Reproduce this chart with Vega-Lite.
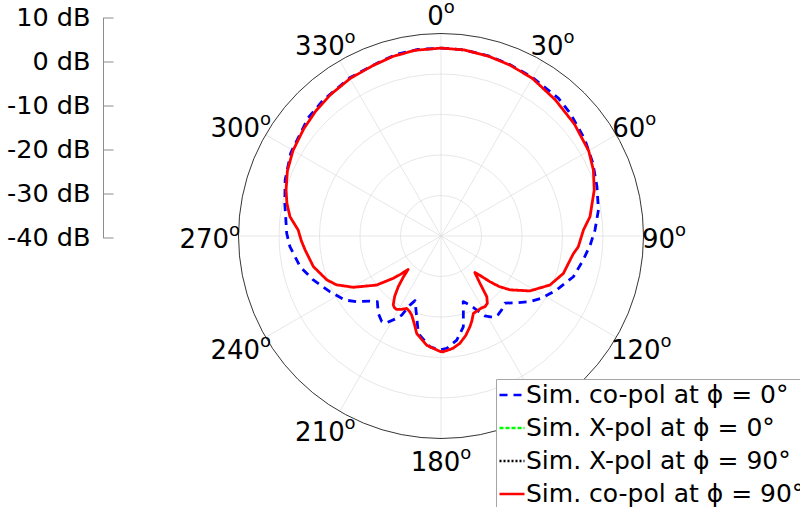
{
  "$schema": "https://vega.github.io/schema/vega-lite/v6.json",
  "width": 405,
  "height": 405,
  "autosize": {"type": "none"},
  "padding": {"left": 238.5, "top": 33.5, "right": 156.5, "bottom": 68.5},
  "background": "white",
  "config": {
    "view": {"stroke": null},
    "font": "DejaVu Sans",
    "legend": {
      "orient": "none",
      "legendX": 257.5,
      "legendY": 345.5,
      "title": null,
      "labelFont": "DejaVu Sans",
      "labelFontSize": 25,
      "labelColor": "#000000",
      "labelLimit": 600,
      "labelOffset": 0,
      "symbolType": "stroke",
      "symbolSize": 625,
      "symbolStrokeWidth": 2.4,
      "rowPadding": 6,
      "padding": 2,
      "strokeColor": "#a6a6a6",
      "fillColor": "#ffffff"
    }
  },
  "datasets": {
    "pattern": [
      {"series": "Sim. co-pol at ϕ = 0°", "angle": 0, "db": 6.4},
      {"series": "Sim. co-pol at ϕ = 0°", "angle": 7, "db": 6.3},
      {"series": "Sim. co-pol at ϕ = 0°", "angle": 15, "db": 6.0},
      {"series": "Sim. co-pol at ϕ = 0°", "angle": 22, "db": 5.6},
      {"series": "Sim. co-pol at ϕ = 0°", "angle": 30, "db": 5.2},
      {"series": "Sim. co-pol at ϕ = 0°", "angle": 40.4, "db": 4.7},
      {"series": "Sim. co-pol at ϕ = 0°", "angle": 46.4, "db": 4.0},
      {"series": "Sim. co-pol at ϕ = 0°", "angle": 56, "db": 2.8},
      {"series": "Sim. co-pol at ϕ = 0°", "angle": 64.3, "db": 1.6},
      {"series": "Sim. co-pol at ϕ = 0°", "angle": 72.4, "db": 0.4},
      {"series": "Sim. co-pol at ϕ = 0°", "angle": 80.6, "db": -0.6},
      {"series": "Sim. co-pol at ϕ = 0°", "angle": 87.8, "db": -1.95},
      {"series": "Sim. co-pol at ϕ = 0°", "angle": 93.5, "db": -3.1},
      {"series": "Sim. co-pol at ϕ = 0°", "angle": 99.6, "db": -4.4},
      {"series": "Sim. co-pol at ϕ = 0°", "angle": 107.1, "db": -5.8},
      {"series": "Sim. co-pol at ϕ = 0°", "angle": 115, "db": -8.5},
      {"series": "Sim. co-pol at ϕ = 0°", "angle": 121.7, "db": -10.8},
      {"series": "Sim. co-pol at ϕ = 0°", "angle": 126.4, "db": -12.7},
      {"series": "Sim. co-pol at ϕ = 0°", "angle": 131.4, "db": -15.1},
      {"series": "Sim. co-pol at ϕ = 0°", "angle": 136.4, "db": -17.1},
      {"series": "Sim. co-pol at ϕ = 0°", "angle": 140.6, "db": -16.4},
      {"series": "Sim. co-pol at ϕ = 0°", "angle": 144, "db": -16.0},
      {"series": "Sim. co-pol at ϕ = 0°", "angle": 147.3, "db": -16.1},
      {"series": "Sim. co-pol at ϕ = 0°", "angle": 151.2, "db": -17.5},
      {"series": "Sim. co-pol at ϕ = 0°", "angle": 154.2, "db": -19.7},
      {"series": "Sim. co-pol at ϕ = 0°", "angle": 157.5, "db": -21.6},
      {"series": "Sim. co-pol at ϕ = 0°", "angle": 161.3, "db": -22.9},
      {"series": "Sim. co-pol at ϕ = 0°", "angle": 163.2, "db": -20.9},
      {"series": "Sim. co-pol at ϕ = 0°", "angle": 166.2, "db": -16.9},
      {"series": "Sim. co-pol at ϕ = 0°", "angle": 171.4, "db": -14.0},
      {"series": "Sim. co-pol at ϕ = 0°", "angle": 177.1, "db": -12.2},
      {"series": "Sim. co-pol at ϕ = 0°", "angle": 180.5, "db": -11.85},
      {"series": "Sim. co-pol at ϕ = 0°", "angle": 185.7, "db": -12.5},
      {"series": "Sim. co-pol at ϕ = 0°", "angle": 193.1, "db": -15.3},
      {"series": "Sim. co-pol at ϕ = 0°", "angle": 196.8, "db": -19.2},
      {"series": "Sim. co-pol at ϕ = 0°", "angle": 201.9, "db": -22.8},
      {"series": "Sim. co-pol at ϕ = 0°", "angle": 204.2, "db": -21.3},
      {"series": "Sim. co-pol at ϕ = 0°", "angle": 206.4, "db": -18.2},
      {"series": "Sim. co-pol at ϕ = 0°", "angle": 208.3, "db": -16.9},
      {"series": "Sim. co-pol at ϕ = 0°", "angle": 212.1, "db": -14.7},
      {"series": "Sim. co-pol at ϕ = 0°", "angle": 214.7, "db": -14.3},
      {"series": "Sim. co-pol at ϕ = 0°", "angle": 219, "db": -15.4},
      {"series": "Sim. co-pol at ϕ = 0°", "angle": 224.1, "db": -17.4},
      {"series": "Sim. co-pol at ϕ = 0°", "angle": 227.5, "db": -16.2},
      {"series": "Sim. co-pol at ϕ = 0°", "angle": 232.1, "db": -13.6},
      {"series": "Sim. co-pol at ϕ = 0°", "angle": 236.3, "db": -11.5},
      {"series": "Sim. co-pol at ϕ = 0°", "angle": 243.4, "db": -9.3},
      {"series": "Sim. co-pol at ϕ = 0°", "angle": 251, "db": -6.65},
      {"series": "Sim. co-pol at ϕ = 0°", "angle": 257.7, "db": -4.4},
      {"series": "Sim. co-pol at ϕ = 0°", "angle": 266, "db": -2.6},
      {"series": "Sim. co-pol at ϕ = 0°", "angle": 271, "db": -1.9},
      {"series": "Sim. co-pol at ϕ = 0°", "angle": 281.8, "db": -0.6},
      {"series": "Sim. co-pol at ϕ = 0°", "angle": 289.8, "db": 0.9},
      {"series": "Sim. co-pol at ϕ = 0°", "angle": 299, "db": 2.4},
      {"series": "Sim. co-pol at ϕ = 0°", "angle": 311.6, "db": 3.9},
      {"series": "Sim. co-pol at ϕ = 0°", "angle": 319.1, "db": 4.4},
      {"series": "Sim. co-pol at ϕ = 0°", "angle": 330, "db": 5.1},
      {"series": "Sim. co-pol at ϕ = 0°", "angle": 340.7, "db": 5.6},
      {"series": "Sim. co-pol at ϕ = 0°", "angle": 346.4, "db": 6.2},
      {"series": "Sim. co-pol at ϕ = 0°", "angle": 353, "db": 6.4},
      {"series": "Sim. co-pol at ϕ = 0°", "angle": 360, "db": 6.4},
      {"series": "Sim. co-pol at ϕ = 90°", "angle": 0, "db": 6.4},
      {"series": "Sim. co-pol at ϕ = 90°", "angle": 7, "db": 6.3},
      {"series": "Sim. co-pol at ϕ = 90°", "angle": 15, "db": 5.9},
      {"series": "Sim. co-pol at ϕ = 90°", "angle": 22, "db": 5.5},
      {"series": "Sim. co-pol at ϕ = 90°", "angle": 30, "db": 5.0},
      {"series": "Sim. co-pol at ϕ = 90°", "angle": 40, "db": 3.9},
      {"series": "Sim. co-pol at ϕ = 90°", "angle": 50, "db": 3.0},
      {"series": "Sim. co-pol at ϕ = 90°", "angle": 60, "db": 2.1},
      {"series": "Sim. co-pol at ϕ = 90°", "angle": 66.6, "db": 1.0},
      {"series": "Sim. co-pol at ϕ = 90°", "angle": 73.3, "db": -0.5},
      {"series": "Sim. co-pol at ϕ = 90°", "angle": 82.6, "db": -2.9},
      {"series": "Sim. co-pol at ϕ = 90°", "angle": 87.6, "db": -4.8},
      {"series": "Sim. co-pol at ϕ = 90°", "angle": 94.5, "db": -6.0},
      {"series": "Sim. co-pol at ϕ = 90°", "angle": 97.5, "db": -7.0},
      {"series": "Sim. co-pol at ϕ = 90°", "angle": 102, "db": -7.8},
      {"series": "Sim. co-pol at ϕ = 90°", "angle": 107, "db": -8.4},
      {"series": "Sim. co-pol at ϕ = 90°", "angle": 114.2, "db": -10.5},
      {"series": "Sim. co-pol at ϕ = 90°", "angle": 121.7, "db": -14.2},
      {"series": "Sim. co-pol at ϕ = 90°", "angle": 128, "db": -18.4},
      {"series": "Sim. co-pol at ϕ = 90°", "angle": 131, "db": -21.0},
      {"series": "Sim. co-pol at ϕ = 90°", "angle": 133, "db": -23.4},
      {"series": "Sim. co-pol at ϕ = 90°", "angle": 135.5, "db": -26.5},
      {"series": "Sim. co-pol at ϕ = 90°", "angle": 137.2, "db": -27.7},
      {"series": "Sim. co-pol at ϕ = 90°", "angle": 138.8, "db": -26.5},
      {"series": "Sim. co-pol at ϕ = 90°", "angle": 140.5, "db": -24.9},
      {"series": "Sim. co-pol at ϕ = 90°", "angle": 143, "db": -21.2},
      {"series": "Sim. co-pol at ϕ = 90°", "angle": 145.5, "db": -19.8},
      {"series": "Sim. co-pol at ϕ = 90°", "angle": 148.1, "db": -19.45},
      {"series": "Sim. co-pol at ϕ = 90°", "angle": 151, "db": -19.6},
      {"series": "Sim. co-pol at ϕ = 90°", "angle": 153.3, "db": -19.5},
      {"series": "Sim. co-pol at ϕ = 90°", "angle": 155.5, "db": -19.4},
      {"series": "Sim. co-pol at ϕ = 90°", "angle": 157.3, "db": -19.3},
      {"series": "Sim. co-pol at ϕ = 90°", "angle": 160, "db": -17.7},
      {"series": "Sim. co-pol at ϕ = 90°", "angle": 162.3, "db": -16.5},
      {"series": "Sim. co-pol at ϕ = 90°", "angle": 166, "db": -14.7},
      {"series": "Sim. co-pol at ϕ = 90°", "angle": 170, "db": -13.1},
      {"series": "Sim. co-pol at ϕ = 90°", "angle": 174, "db": -12.1},
      {"series": "Sim. co-pol at ϕ = 90°", "angle": 179, "db": -11.4},
      {"series": "Sim. co-pol at ϕ = 90°", "angle": 180.5, "db": -11.5},
      {"series": "Sim. co-pol at ϕ = 90°", "angle": 187.5, "db": -12.8},
      {"series": "Sim. co-pol at ϕ = 90°", "angle": 194, "db": -15.2},
      {"series": "Sim. co-pol at ϕ = 90°", "angle": 197, "db": -17.4},
      {"series": "Sim. co-pol at ϕ = 90°", "angle": 200.4, "db": -19.2},
      {"series": "Sim. co-pol at ϕ = 90°", "angle": 203, "db": -19.9},
      {"series": "Sim. co-pol at ϕ = 90°", "angle": 205.4, "db": -20.2},
      {"series": "Sim. co-pol at ϕ = 90°", "angle": 208, "db": -19.5},
      {"series": "Sim. co-pol at ϕ = 90°", "angle": 211.2, "db": -18.8},
      {"series": "Sim. co-pol at ϕ = 90°", "angle": 213, "db": -18.9},
      {"series": "Sim. co-pol at ϕ = 90°", "angle": 214.7, "db": -19.3},
      {"series": "Sim. co-pol at ϕ = 90°", "angle": 217.5, "db": -21.2},
      {"series": "Sim. co-pol at ϕ = 90°", "angle": 220.1, "db": -23.6},
      {"series": "Sim. co-pol at ϕ = 90°", "angle": 222.5, "db": -26.2},
      {"series": "Sim. co-pol at ϕ = 90°", "angle": 224.5, "db": -28.4},
      {"series": "Sim. co-pol at ϕ = 90°", "angle": 226.5, "db": -26.3},
      {"series": "Sim. co-pol at ϕ = 90°", "angle": 228.4, "db": -24.3},
      {"series": "Sim. co-pol at ϕ = 90°", "angle": 232.7, "db": -20.0},
      {"series": "Sim. co-pol at ϕ = 90°", "angle": 239.7, "db": -14.9},
      {"series": "Sim. co-pol at ϕ = 90°", "angle": 245, "db": -11.5},
      {"series": "Sim. co-pol at ϕ = 90°", "angle": 249, "db": -9.8},
      {"series": "Sim. co-pol at ϕ = 90°", "angle": 256.5, "db": -7.6},
      {"series": "Sim. co-pol at ϕ = 90°", "angle": 264, "db": -6.3},
      {"series": "Sim. co-pol at ϕ = 90°", "angle": 268, "db": -5.5},
      {"series": "Sim. co-pol at ϕ = 90°", "angle": 272.4, "db": -4.7},
      {"series": "Sim. co-pol at ϕ = 90°", "angle": 277.3, "db": -2.4},
      {"series": "Sim. co-pol at ϕ = 90°", "angle": 282, "db": -1.1},
      {"series": "Sim. co-pol at ϕ = 90°", "angle": 286.5, "db": -0.1},
      {"series": "Sim. co-pol at ϕ = 90°", "angle": 293, "db": 1.2},
      {"series": "Sim. co-pol at ϕ = 90°", "angle": 300, "db": 2.2},
      {"series": "Sim. co-pol at ϕ = 90°", "angle": 308, "db": 3.0},
      {"series": "Sim. co-pol at ϕ = 90°", "angle": 315, "db": 3.7},
      {"series": "Sim. co-pol at ϕ = 90°", "angle": 322, "db": 4.3},
      {"series": "Sim. co-pol at ϕ = 90°", "angle": 330, "db": 4.9},
      {"series": "Sim. co-pol at ϕ = 90°", "angle": 338, "db": 5.3},
      {"series": "Sim. co-pol at ϕ = 90°", "angle": 345, "db": 5.9},
      {"series": "Sim. co-pol at ϕ = 90°", "angle": 352, "db": 6.3},
      {"series": "Sim. co-pol at ϕ = 90°", "angle": 360, "db": 6.4}
    ],
    "ticks": [
      {"angle": 0, "num": "0"}, {"angle": 30, "num": "30"}, {"angle": 60, "num": "60"},
      {"angle": 90, "num": "90"}, {"angle": 120, "num": "120"}, {"angle": 150, "num": "150"},
      {"angle": 180, "num": "180"}, {"angle": 210, "num": "210"}, {"angle": 240, "num": "240"},
      {"angle": 270, "num": "270"}, {"angle": 300, "num": "300"}, {"angle": 330, "num": "330"}
    ]
  },
  "layer": [
    {
      "layer": [
        {
          "data": {"values": [{"lev": -30}, {"lev": -20}, {"lev": -10}, {"lev": 0}]},
          "transform": [{"calculate": "datum.lev + 40", "as": "rr"}],
          "mark": {"type": "point", "shape": "circle", "filled": false, "stroke": "#dcdcdc", "strokeWidth": 0.7, "opacity": 1},
          "encoding": {
            "x": {"datum": 0, "type": "quantitative", "scale": {"domain": [-50, 50], "nice": false, "zero": false}, "axis": null},
            "y": {"datum": 0, "type": "quantitative", "scale": {"domain": [-50, 50], "nice": false, "zero": false}, "axis": null},
            "size": {"field": "rr", "type": "quantitative", "legend": null, "scale": {"type": "pow", "exponent": 2, "domain": [0, 50], "range": [0, 164025], "zero": true, "nice": false}}
          }
        },
        {
          "data": {"values": [{"a": 0}, {"a": 30}, {"a": 60}, {"a": 90}, {"a": 120}, {"a": 150}, {"a": 180}, {"a": 210}, {"a": 240}, {"a": 270}, {"a": 300}, {"a": 330}]},
          "transform": [
            {"calculate": "50*sin(datum.a*PI/180)", "as": "sx"},
            {"calculate": "50*cos(datum.a*PI/180)", "as": "sy"}
          ],
          "mark": {"type": "rule", "stroke": "#dcdcdc", "strokeWidth": 0.7},
          "encoding": {
            "x": {"field": "sx", "type": "quantitative"},
            "y": {"field": "sy", "type": "quantitative"},
            "x2": {"datum": 0},
            "y2": {"datum": 0}
          }
        },
        {
          "data": {"values": [{"lev": 10}]},
          "transform": [{"calculate": "datum.lev + 40", "as": "rr"}],
          "mark": {"type": "point", "shape": "circle", "filled": false, "stroke": "#000000", "strokeWidth": 0.8, "opacity": 1},
          "encoding": {
            "x": {"datum": 0, "type": "quantitative"},
            "y": {"datum": 0, "type": "quantitative"},
            "size": {"field": "rr", "type": "quantitative", "legend": null}
          }
        },
        {
          "data": {"name": "pattern"},
          "transform": [
            {"calculate": "(datum.db+40)*sin(datum.angle*PI/180)", "as": "px"},
            {"calculate": "(datum.db+40)*cos(datum.angle*PI/180)", "as": "py"}
          ],
          "mark": {"type": "line", "strokeWidth": 2.8, "strokeCap": "butt", "strokeJoin": "round"},
          "encoding": {
            "x": {"field": "px", "type": "quantitative"},
            "y": {"field": "py", "type": "quantitative"},
            "order": {"field": "angle", "type": "quantitative"},
            "color": {
              "field": "series", "type": "nominal",
              "scale": {
                "domain": ["Sim. co-pol at ϕ = 0°", "Sim. X-pol at ϕ = 0°", "Sim. X-pol at ϕ = 90°", "Sim. co-pol at ϕ = 90°"],
                "range": ["#0000ff", "#00ff00", "#000000", "#ff0000"]
              }
            },
            "strokeDash": {
              "field": "series", "type": "nominal",
              "scale": {
                "domain": ["Sim. co-pol at ϕ = 0°", "Sim. X-pol at ϕ = 0°", "Sim. X-pol at ϕ = 90°", "Sim. co-pol at ϕ = 90°"],
                "range": [[8, 6], [4, 2], [2, 2], [1, 0]]
              }
            }
          }
        },
        {
          "data": {"name": "ticks"},
          "transform": [
            {"calculate": "49.63*sin(datum.angle*PI/180)", "as": "lx"},
            {"calculate": "49.63*cos(datum.angle*PI/180)", "as": "ly"}
          ],
          "mark": {
            "type": "text", "font": "DejaVu Sans", "fontSize": 26, "color": "#000000",
            "align": "left", "baseline": "alphabetic",
            "dx": {"expr": "(sin(datum.angle*PI/180)-1)*(length(datum.num)*16.5+11)/2"},
            "dy": {"expr": "12 - cos(datum.angle*PI/180)*21.5"}
          },
          "encoding": {
            "x": {"field": "lx", "type": "quantitative"},
            "y": {"field": "ly", "type": "quantitative"},
            "text": {"field": "num", "type": "nominal"}
          }
        },
        {
          "data": {"name": "ticks"},
          "transform": [
            {"calculate": "49.63*sin(datum.angle*PI/180)", "as": "lx"},
            {"calculate": "49.63*cos(datum.angle*PI/180)", "as": "ly"}
          ],
          "mark": {
            "type": "text", "font": "DejaVu Sans", "fontSize": 18, "color": "#000000",
            "align": "left", "baseline": "alphabetic", "text": "o",
            "dx": {"expr": "(sin(datum.angle*PI/180)-1)*(length(datum.num)*16.5+11)/2 + length(datum.num)*16.5"},
            "dy": {"expr": "0 - cos(datum.angle*PI/180)*21.5"}
          },
          "encoding": {
            "x": {"field": "lx", "type": "quantitative"},
            "y": {"field": "ly", "type": "quantitative"}
          }
        }
      ]
    },
    {
      "data": {"values": [{"v": -40}, {"v": 10}]},
      "mark": {"type": "point", "opacity": 0},
      "encoding": {
        "x": {"datum": 0, "type": "quantitative"},
        "y": {
          "field": "v", "type": "quantitative",
          "scale": {"domain": [-40, 10], "range": [204.2, -16.2], "nice": false, "zero": false},
          "axis": {
            "orient": "left", "offset": 135.5,
            "values": [-40, -30, -20, -10, 0, 10],
            "labelExpr": "datum.value + ' dB'",
            "labelFont": "DejaVu Sans", "labelFontSize": 25.5, "labelColor": "#000000",
            "domainColor": "#8c8c8c", "tickColor": "#8c8c8c", "tickSize": -10,
            "labelPadding": 23, "title": null, "grid": false,
            "labelBound": false, "labelFlush": false, "labelOverlap": false
          }
        }
      }
    }
  ],
  "resolve": {"scale": {"y": "independent"}, "axis": {"y": "independent"}}
}
